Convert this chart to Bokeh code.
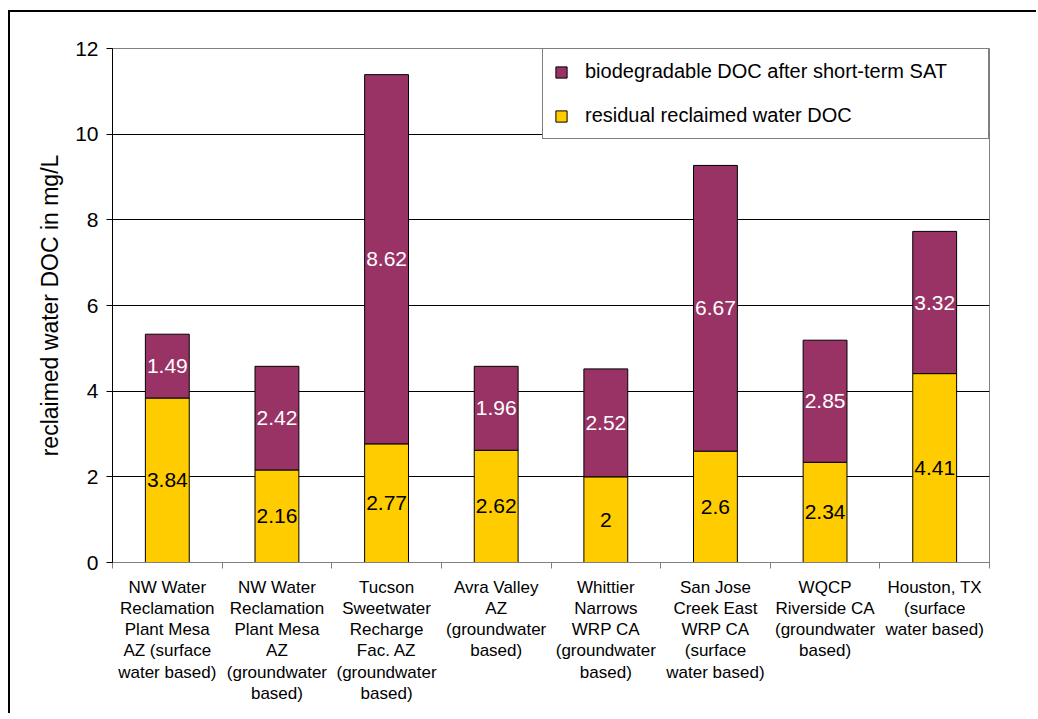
import numpy as np
from bokeh.plotting import figure
from bokeh.models import ColumnDataSource, Range1d, FixedTicker, Legend, LegendItem
from bokeh.core.properties import value
from bokeh.embed import file_html
from bokeh.resources import INLINE

categories = [
    "NW Water\nReclamation\nPlant Mesa\nAZ (surface\nwater based)",
    "NW Water\nReclamation\nPlant Mesa\nAZ\n(groundwater\nbased)",
    "Tucson\nSweetwater\nRecharge\nFac. AZ\n(groundwater\nbased)",
    "Avra Valley\nAZ\n(groundwater\nbased)",
    "Whittier\nNarrows\nWRP CA\n(groundwater\nbased)",
    "San Jose\nCreek East\nWRP CA\n(surface\nwater based)",
    "WQCP\nRiverside CA\n(groundwater\nbased)",
    "Houston, TX\n(surface\nwater based)",
]
residual_doc = [3.84, 2.16, 2.77, 2.62, 2.0, 2.6, 2.34, 4.41]
biodegradable_doc = [1.49, 2.42, 8.62, 1.96, 2.52, 6.67, 2.85, 3.32]
residual_labels = ["3.84", "2.16", "2.77", "2.62", "2", "2.6", "2.34", "4.41"]
biodegradable_labels = ["1.49", "2.42", "8.62", "1.96", "2.52", "6.67", "2.85", "3.32"]
y_ticks = [0, 2, 4, 6, 8, 10, 12]
series_names = ["biodegradable DOC after short-term SAT", "residual reclaimed water DOC"]

FONT = "Liberation Sans"
PURPLE = "#993366"
YELLOW = "#FFCC00"

x = np.arange(1, len(categories) + 1)
res = np.array(residual_doc)
bio = np.array(biodegradable_doc)
src = ColumnDataSource(dict(
    x=x, res=res, bio_top=res + bio, res_mid=res / 2, bio_mid=res + bio / 2,
    res_lab=residual_labels, bio_lab=biodegradable_labels,
))

p = figure(width=1028, height=703, output_backend="svg", toolbar_location=None,
           x_range=Range1d(0.5, len(categories) + 0.5), y_range=Range1d(0, 12),
           min_border_left=102, min_border_right=49, min_border_top=36, min_border_bottom=153)
p.styles = {"border-top": "2px solid black", "border-left": "2px solid black",
            "margin-left": "8px", "margin-top": "10px"}
p.background_fill_color = "white"
p.border_fill_color = "white"
p.outline_line_color = "#808080"
p.outline_line_width = 1

r_res = p.vbar(x="x", bottom=0, top="res", width=0.4, fill_color=YELLOW,
               line_color="black", line_width=1, source=src)
r_bio = p.vbar(x="x", bottom="res", top="bio_top", width=0.4, fill_color=PURPLE,
               line_color="black", line_width=1, source=src)

p.text(x="x", y="res_mid", text="res_lab", text_align="center", text_baseline="middle",
       text_font=value(FONT), text_font_size="21px", text_color="black", source=src)
p.text(x="x", y="bio_mid", text="bio_lab", text_align="center", text_baseline="middle",
       text_font=value(FONT), text_font_size="21px", text_color="white", source=src)

# x axis
p.xaxis.ticker = FixedTicker(ticks=[float(v) for v in x],
                             minor_ticks=[float(v) - 0.5 for v in x] + [float(x[-1]) + 0.5])
p.xaxis.major_label_overrides = {int(v): lab for v, lab in zip(x, categories)}
p.xaxis.major_tick_line_color = None
p.xaxis.minor_tick_line_color = "#808080"
p.xaxis.minor_tick_out = 6
p.xaxis.minor_tick_in = 0
p.xaxis.axis_line_color = "#808080"
p.xaxis.major_label_text_font = FONT
p.xaxis.major_label_text_font_size = "17px"
p.xaxis.major_label_text_color = "black"
p.xaxis.major_label_text_line_height = 1.12
p.xaxis.major_label_standoff = 9

# y axis
p.yaxis.ticker = FixedTicker(ticks=y_ticks)
p.yaxis.major_tick_out = 6
p.yaxis.major_tick_in = 0
p.yaxis.major_tick_line_color = "black"
p.yaxis.axis_line_color = "black"
p.yaxis.major_label_text_font = FONT
p.yaxis.major_label_text_font_size = "21px"
p.yaxis.major_label_text_color = "black"
p.yaxis.major_label_standoff = 8
p.yaxis.axis_label = "reclaimed water DOC in mg/L"
p.yaxis.axis_label_text_font = FONT
p.yaxis.axis_label_text_font_size = "23px"
p.yaxis.axis_label_text_font_style = "normal"
p.yaxis.axis_label_text_color = "black"
p.yaxis.axis_label_standoff = 9

p.xgrid.visible = False
p.ygrid.ticker = FixedTicker(ticks=[t for t in y_ticks if 0 < t < 12])
p.ygrid.grid_line_color = "black"
p.ygrid.grid_line_width = 1

legend = Legend(items=[LegendItem(label=series_names[0], renderers=[r_bio]),
                       LegendItem(label=series_names[1], renderers=[r_res])],
                location="top_right")
legend.margin = 0
legend.padding = 11
legend.spacing = 21
legend.glyph_width = 14
legend.glyph_height = 14
legend.label_standoff = 17
legend.label_width = 392
legend.label_text_font = FONT
legend.label_text_font_size = "20px"
legend.label_text_color = "black"
legend.border_line_color = "black"
legend.border_line_width = 1
legend.background_fill_color = "white"
legend.background_fill_alpha = 1
p.add_layout(legend)

open("out.html", "w").write(file_html(p, INLINE))
